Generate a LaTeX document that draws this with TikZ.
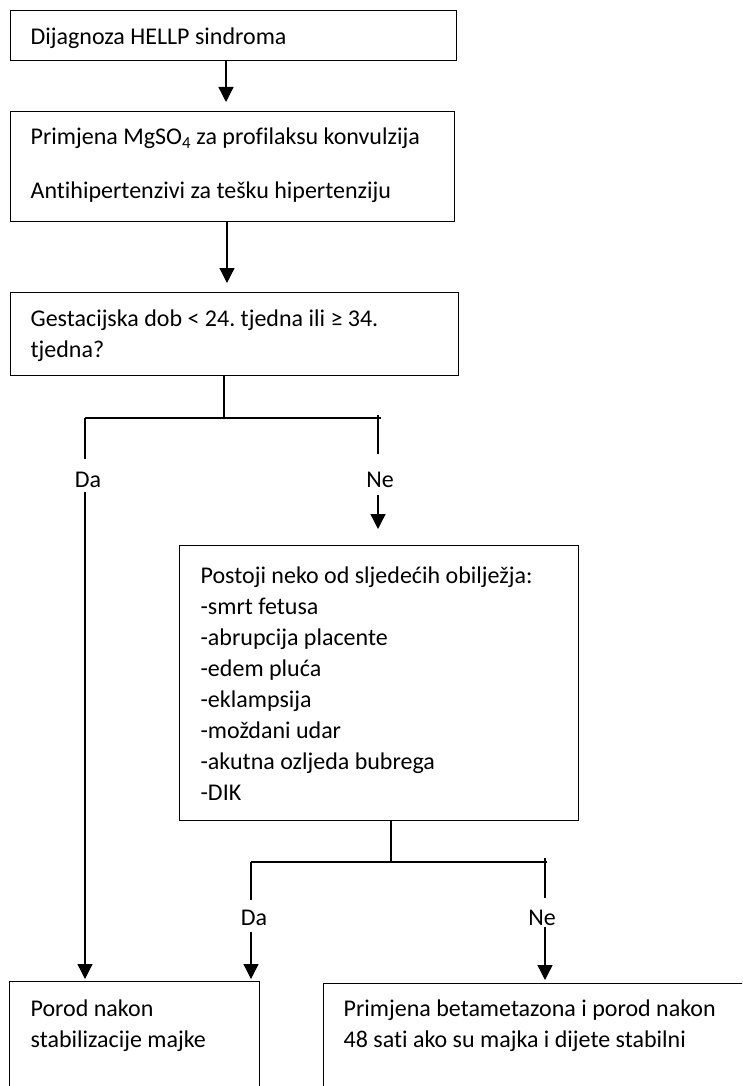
\documentclass[tikz,border=0pt]{standalone}
\usepackage{fontspec}
\setmainfont{Carlito}[Ligatures=CommonOff]
\usetikzlibrary{arrows.meta}
\frenchspacing
\newcommand{\redovi}[2]{\makebox[#1][l]{\parbox[t]{600pt}{\raggedright #2}}}
\tikzset{
  kasten/.style={draw, line width=1.3pt, anchor=north west, inner ysep=0pt},
  oznaka/.style={inner sep=0pt, anchor=base},
  veza/.style={line width=1.3pt},
  strelica/.style={line width=1.3pt, -{Triangle[width=15pt,length=15pt]}}
}
\begin{document}
\begin{tikzpicture}[x=1pt,y=-1pt,font=\fontsize{24}{31}\selectfont]
  \useasboundingbox (0,0) rectangle (742,1086);
  \clip (0,0) rectangle (742,1086);

  % okviri
  \node[kasten, inner xsep=20pt, text height=34pt, text depth=16pt] (dijagnoza) at (10,10)
    {\redovi{406pt}{Dijagnoza HELLP sindroma}};
  \node[kasten, inner xsep=20pt, text height=33pt, text depth=77pt] (terapija) at (10,111)
    {\redovi{404pt}{Primjena MgSO\textsubscript{4} za profilaksu konvulzija\\[23pt]
      Antihipertenzivi za tešku hipertenziju}};
  \node[kasten, inner xsep=20pt, text height=34pt, text depth=49pt] (dob) at (10,292)
    {\redovi{408pt}{Gestacijska dob < 24. tjedna ili ≥ 34.\\ tjedna?}};
  \node[kasten, inner xsep=21pt, text height=38pt, text depth=237pt] (obiljezja) at (179,545)
    {\redovi{357pt}{Postoji neko od sljedećih obilježja:\\ -smrt fetusa\\ -abrupcija placente\\
      -edem pluća\\ -eklampsija\\ -moždani udar\\ -akutna ozljeda bubrega\\ -DIK}};
  \node[kasten, inner xsep=21pt, text height=35pt, text depth=90pt] (porod) at (9,981)
    {\redovi{208pt}{Porod nakon\\ stabilizacije majke}};
  \node[kasten, inner xsep=20pt, text height=33pt, text depth=90pt] (betametazon) at (323,983)
    {\redovi{397pt}{Primjena betametazona i porod nakon\\ 48 sati ako su majka i dijete stabilni}};

  % grananja
  \coordinate (gornji) at (224,418);
  \coordinate (gda) at (85,418);
  \coordinate (gne) at (378,415);
  \coordinate (donji) at (391,862);
  \coordinate (dda) at (251,862);
  \coordinate (dne) at (545,858);

  \node[oznaka, text height=28pt, text depth=5pt] (da1) at (88,487) {Da};
  \node[oznaka, text height=33pt, text depth=8pt] (ne1) at (380,487) {Ne};
  \node[oznaka, text height=25pt, text depth=7pt] (da2) at (254,925) {Da};
  \node[oznaka, text height=27pt, text depth=2pt] (ne2) at (542,925) {Ne};

  % veze
  \draw[strelica, shorten >=9pt] (dijagnoza.south -| 226,0) -- (terapija.north -| 226,0);
  \draw[strelica, shorten >=9pt] (terapija.south -| 227,0) -- (dob.north -| 227,0);
  \draw[veza] (dob.south -| gornji) -- (gornji);
  \draw[veza] (gda) -- (381,418);
  \draw[veza] (gda) -- (da1.north -| gda);
  \draw[veza] (gne) -- (ne1.north -| gne);
  \draw[strelica, shorten >=2pt] (da1.south -| gda) -- (porod.north -| gda);
  \draw[strelica, shorten >=16pt] (ne1.south -| gne) -- (obiljezja.north -| gne);
  \draw[veza] (obiljezja.south -| donji) -- (donji);
  \draw[veza] (dda) -- (547,862);
  \draw[veza] (dda) -- (da2.north -| dda);
  \draw[veza] (dne) -- (ne2.north -| dne);
  \draw[strelica, shorten >=2pt] (da2.south -| dda) -- (porod.north -| dda);
  \draw[strelica, shorten >=3pt] (ne2.south -| dne) -- (betametazon.north -| dne);
\end{tikzpicture}
\end{document}
